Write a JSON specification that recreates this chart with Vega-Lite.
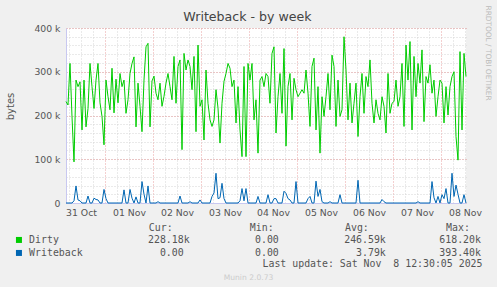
{
"$schema": "https://vega.github.io/schema/vega-lite/v6.json",
"width": 400, "height": 175,
"autosize": "none",
"padding": {"left": 66, "top": 28, "right": 31, "bottom": 84},
"background": "#F0F0F0",
"config": {
  "view": {"fill": "#FFFFFF", "stroke": null},
  "font": "DejaVu Sans",
  "axis": {"gridDash": [1, 2], "gridWidth": 1, "ticks": false, "labelColor": "#555555", "titleColor": "#555555", "titleFontWeight": "normal"}
},
"title": {"text": "Writeback - by week", "fontSize": 12.6, "fontWeight": "normal", "color": "#444444", "anchor": "middle", "dx": -18.5, "dy": 23, "offset": 4, "font": "DejaVu Sans"},
"data": {"values": [
{"t":"2025-10-31T04:30","d":232,"w":0},{"t":"2025-10-31T05:30","d":224,"w":0},{"t":"2025-10-31T06:30","d":319,"w":0},{"t":"2025-10-31T07:30","d":197,"w":0},{"t":"2025-10-31T08:30","d":94,"w":5},{"t":"2025-10-31T09:30","d":281,"w":39},{"t":"2025-10-31T10:30","d":266,"w":7},{"t":"2025-10-31T11:30","d":277,"w":5},{"t":"2025-10-31T12:30","d":167,"w":0},{"t":"2025-10-31T13:30","d":281,"w":0},{"t":"2025-10-31T14:30","d":174,"w":0},{"t":"2025-10-31T15:30","d":216,"w":16},{"t":"2025-10-31T16:30","d":319,"w":0},{"t":"2025-10-31T17:30","d":266,"w":0},{"t":"2025-10-31T18:30","d":216,"w":11},{"t":"2025-10-31T19:30","d":281,"w":8},{"t":"2025-10-31T20:30","d":319,"w":7},{"t":"2025-10-31T21:30","d":229,"w":0},{"t":"2025-10-31T22:30","d":198,"w":0},{"t":"2025-10-31T23:30","d":133,"w":31},
{"t":"2025-11-01T00:30","d":281,"w":10},{"t":"2025-11-01T01:30","d":243,"w":0},{"t":"2025-11-01T02:30","d":213,"w":0},{"t":"2025-11-01T03:30","d":308,"w":0},{"t":"2025-11-01T04:30","d":206,"w":0},{"t":"2025-11-01T05:30","d":283,"w":0},{"t":"2025-11-01T06:30","d":229,"w":0},{"t":"2025-11-01T07:30","d":296,"w":0},{"t":"2025-11-01T08:30","d":266,"w":0},{"t":"2025-11-01T09:30","d":281,"w":30},{"t":"2025-11-01T10:30","d":205,"w":0},{"t":"2025-11-01T11:30","d":236,"w":0},{"t":"2025-11-01T12:30","d":296,"w":31},{"t":"2025-11-01T13:30","d":319,"w":11},{"t":"2025-11-01T14:30","d":334,"w":0},{"t":"2025-11-01T15:30","d":174,"w":14},{"t":"2025-11-01T16:30","d":274,"w":0},{"t":"2025-11-01T17:30","d":221,"w":0},{"t":"2025-11-01T18:30","d":163,"w":49},{"t":"2025-11-01T19:30","d":281,"w":20},{"t":"2025-11-01T20:30","d":357,"w":0},{"t":"2025-11-01T21:30","d":365,"w":39},{"t":"2025-11-01T22:30","d":174,"w":0},{"t":"2025-11-01T23:30","d":279,"w":0},
{"t":"2025-11-02T00:30","d":290,"w":0},{"t":"2025-11-02T01:30","d":251,"w":0},{"t":"2025-11-02T02:30","d":236,"w":3},{"t":"2025-11-02T03:30","d":274,"w":0},{"t":"2025-11-02T04:30","d":221,"w":0},{"t":"2025-11-02T05:30","d":244,"w":0},{"t":"2025-11-02T06:30","d":274,"w":0},{"t":"2025-11-02T07:30","d":296,"w":0},{"t":"2025-11-02T08:30","d":266,"w":0},{"t":"2025-11-02T09:30","d":236,"w":0},{"t":"2025-11-02T10:30","d":335,"w":0},{"t":"2025-11-02T11:30","d":228,"w":0},{"t":"2025-11-02T12:30","d":312,"w":0},{"t":"2025-11-02T13:30","d":327,"w":16},{"t":"2025-11-02T14:30","d":122,"w":0},{"t":"2025-11-02T15:30","d":342,"w":0},{"t":"2025-11-02T16:30","d":304,"w":0},{"t":"2025-11-02T17:30","d":327,"w":0},{"t":"2025-11-02T18:30","d":312,"w":3},{"t":"2025-11-02T19:30","d":259,"w":0},{"t":"2025-11-02T20:30","d":335,"w":0},{"t":"2025-11-02T21:30","d":163,"w":0},{"t":"2025-11-02T22:30","d":361,"w":0},{"t":"2025-11-02T23:30","d":221,"w":7},
{"t":"2025-11-03T00:30","d":236,"w":0},{"t":"2025-11-03T01:30","d":144,"w":0},{"t":"2025-11-03T02:30","d":304,"w":0},{"t":"2025-11-03T03:30","d":228,"w":0},{"t":"2025-11-03T04:30","d":190,"w":0},{"t":"2025-11-03T05:30","d":175,"w":15},{"t":"2025-11-03T06:30","d":190,"w":23},{"t":"2025-11-03T07:30","d":259,"w":68},{"t":"2025-11-03T08:30","d":217,"w":10},{"t":"2025-11-03T09:30","d":137,"w":12},{"t":"2025-11-03T10:30","d":228,"w":45},{"t":"2025-11-03T11:30","d":278,"w":10},{"t":"2025-11-03T12:30","d":296,"w":0},{"t":"2025-11-03T13:30","d":319,"w":0},{"t":"2025-11-03T14:30","d":308,"w":0},{"t":"2025-11-03T15:30","d":266,"w":0},{"t":"2025-11-03T16:30","d":281,"w":0},{"t":"2025-11-03T17:30","d":183,"w":0},{"t":"2025-11-03T18:30","d":266,"w":0},{"t":"2025-11-03T19:30","d":167,"w":5},{"t":"2025-11-03T20:30","d":106,"w":33},{"t":"2025-11-03T21:30","d":312,"w":5},{"t":"2025-11-03T22:30","d":106,"w":33},{"t":"2025-11-03T23:30","d":319,"w":0},
{"t":"2025-11-04T00:30","d":281,"w":0},{"t":"2025-11-04T01:30","d":319,"w":0},{"t":"2025-11-04T02:30","d":190,"w":0},{"t":"2025-11-04T03:30","d":236,"w":0},{"t":"2025-11-04T04:30","d":114,"w":15},{"t":"2025-11-04T05:30","d":281,"w":0},{"t":"2025-11-04T06:30","d":289,"w":0},{"t":"2025-11-04T07:30","d":266,"w":0},{"t":"2025-11-04T08:30","d":296,"w":0},{"t":"2025-11-04T09:30","d":289,"w":19},{"t":"2025-11-04T10:30","d":228,"w":0},{"t":"2025-11-04T11:30","d":342,"w":0},{"t":"2025-11-04T12:30","d":357,"w":10},{"t":"2025-11-04T13:30","d":160,"w":10},{"t":"2025-11-04T14:30","d":243,"w":0},{"t":"2025-11-04T15:30","d":296,"w":0},{"t":"2025-11-04T16:30","d":205,"w":0},{"t":"2025-11-04T17:30","d":353,"w":27},{"t":"2025-11-04T18:30","d":130,"w":22},{"t":"2025-11-04T19:30","d":266,"w":10},{"t":"2025-11-04T20:30","d":296,"w":7},{"t":"2025-11-04T21:30","d":190,"w":0},{"t":"2025-11-04T22:30","d":285,"w":0},{"t":"2025-11-04T23:30","d":259,"w":49},
{"t":"2025-11-05T00:30","d":243,"w":0},{"t":"2025-11-05T01:30","d":251,"w":0},{"t":"2025-11-05T02:30","d":259,"w":0},{"t":"2025-11-05T03:30","d":251,"w":0},{"t":"2025-11-05T04:30","d":304,"w":0},{"t":"2025-11-05T05:30","d":251,"w":10},{"t":"2025-11-05T06:30","d":175,"w":15},{"t":"2025-11-05T07:30","d":312,"w":0},{"t":"2025-11-05T08:30","d":331,"w":0},{"t":"2025-11-05T09:30","d":167,"w":50},{"t":"2025-11-05T10:30","d":266,"w":15},{"t":"2025-11-05T11:30","d":114,"w":31},{"t":"2025-11-05T12:30","d":243,"w":3},{"t":"2025-11-05T13:30","d":198,"w":0},{"t":"2025-11-05T14:30","d":243,"w":0},{"t":"2025-11-05T15:30","d":296,"w":0},{"t":"2025-11-05T16:30","d":213,"w":3},{"t":"2025-11-05T17:30","d":338,"w":0},{"t":"2025-11-05T18:30","d":312,"w":0},{"t":"2025-11-05T19:30","d":175,"w":0},{"t":"2025-11-05T20:30","d":281,"w":0},{"t":"2025-11-05T21:30","d":198,"w":19},{"t":"2025-11-05T22:30","d":213,"w":0},{"t":"2025-11-05T23:30","d":380,"w":0},
{"t":"2025-11-06T00:30","d":304,"w":0},{"t":"2025-11-06T01:30","d":190,"w":0},{"t":"2025-11-06T02:30","d":274,"w":0},{"t":"2025-11-06T03:30","d":183,"w":0},{"t":"2025-11-06T04:30","d":228,"w":0},{"t":"2025-11-06T05:30","d":274,"w":0},{"t":"2025-11-06T06:30","d":152,"w":52},{"t":"2025-11-06T07:30","d":243,"w":0},{"t":"2025-11-06T08:30","d":296,"w":0},{"t":"2025-11-06T09:30","d":205,"w":0},{"t":"2025-11-06T10:30","d":289,"w":0},{"t":"2025-11-06T11:30","d":266,"w":0},{"t":"2025-11-06T12:30","d":327,"w":0},{"t":"2025-11-06T13:30","d":228,"w":0},{"t":"2025-11-06T14:30","d":183,"w":0},{"t":"2025-11-06T15:30","d":236,"w":0},{"t":"2025-11-06T16:30","d":205,"w":0},{"t":"2025-11-06T17:30","d":190,"w":0},{"t":"2025-11-06T18:30","d":243,"w":8},{"t":"2025-11-06T19:30","d":221,"w":3},{"t":"2025-11-06T20:30","d":160,"w":0},{"t":"2025-11-06T21:30","d":296,"w":0},{"t":"2025-11-06T22:30","d":205,"w":0},{"t":"2025-11-06T23:30","d":228,"w":0},
{"t":"2025-11-07T00:30","d":232,"w":0},{"t":"2025-11-07T01:30","d":281,"w":0},{"t":"2025-11-07T02:30","d":221,"w":0},{"t":"2025-11-07T03:30","d":243,"w":0},{"t":"2025-11-07T04:30","d":319,"w":0},{"t":"2025-11-07T05:30","d":175,"w":0},{"t":"2025-11-07T06:30","d":361,"w":0},{"t":"2025-11-07T07:30","d":281,"w":0},{"t":"2025-11-07T08:30","d":369,"w":0},{"t":"2025-11-07T09:30","d":167,"w":0},{"t":"2025-11-07T10:30","d":335,"w":0},{"t":"2025-11-07T11:30","d":243,"w":0},{"t":"2025-11-07T12:30","d":319,"w":3},{"t":"2025-11-07T13:30","d":274,"w":0},{"t":"2025-11-07T14:30","d":350,"w":0},{"t":"2025-11-07T15:30","d":186,"w":0},{"t":"2025-11-07T16:30","d":289,"w":0},{"t":"2025-11-07T17:30","d":274,"w":0},{"t":"2025-11-07T18:30","d":316,"w":0},{"t":"2025-11-07T19:30","d":251,"w":49},{"t":"2025-11-07T20:30","d":281,"w":12},{"t":"2025-11-07T21:30","d":198,"w":0},{"t":"2025-11-07T22:30","d":243,"w":15},{"t":"2025-11-07T23:30","d":281,"w":0},
{"t":"2025-11-08T00:30","d":274,"w":19},{"t":"2025-11-08T01:30","d":183,"w":10},{"t":"2025-11-08T02:30","d":266,"w":33},{"t":"2025-11-08T03:30","d":201,"w":0},{"t":"2025-11-08T04:30","d":266,"w":0},{"t":"2025-11-08T05:30","d":289,"w":68},{"t":"2025-11-08T06:30","d":300,"w":15},{"t":"2025-11-08T07:30","d":152,"w":41},{"t":"2025-11-08T08:30","d":98,"w":20},{"t":"2025-11-08T09:30","d":346,"w":0},{"t":"2025-11-08T10:30","d":167,"w":0},{"t":"2025-11-08T11:30","d":342,"w":19},{"t":"2025-11-08T12:30","d":289,"w":0}
]},
"layer": [
  {
    "mark": {"type": "line", "strokeWidth": 1},
    "encoding": {
      "x": {"field": "t", "type": "temporal",
        "scale": {"domain": [{"year": 2025, "month": 10, "date": 31, "hours": 4, "minutes": 30}, {"year": 2025, "month": 11, "date": 8, "hours": 12, "minutes": 30}]},
        "axis": {"orient": "bottom", "grid": true, "gridColor": "#D4D4D4",
          "values": [{"year":2025,"month":10,"date":31,"hours":6},{"year":2025,"month":10,"date":31,"hours":12},{"year":2025,"month":10,"date":31,"hours":18},
            {"year":2025,"month":11,"date":1,"hours":6},{"year":2025,"month":11,"date":1,"hours":12},{"year":2025,"month":11,"date":1,"hours":18},
            {"year":2025,"month":11,"date":2,"hours":6},{"year":2025,"month":11,"date":2,"hours":12},{"year":2025,"month":11,"date":2,"hours":18},
            {"year":2025,"month":11,"date":3,"hours":6},{"year":2025,"month":11,"date":3,"hours":12},{"year":2025,"month":11,"date":3,"hours":18},
            {"year":2025,"month":11,"date":4,"hours":6},{"year":2025,"month":11,"date":4,"hours":12},{"year":2025,"month":11,"date":4,"hours":18},
            {"year":2025,"month":11,"date":5,"hours":6},{"year":2025,"month":11,"date":5,"hours":12},{"year":2025,"month":11,"date":5,"hours":18},
            {"year":2025,"month":11,"date":6,"hours":6},{"year":2025,"month":11,"date":6,"hours":12},{"year":2025,"month":11,"date":6,"hours":18},
            {"year":2025,"month":11,"date":7,"hours":6},{"year":2025,"month":11,"date":7,"hours":12},{"year":2025,"month":11,"date":7,"hours":18},
            {"year":2025,"month":11,"date":8,"hours":6},{"year":2025,"month":11,"date":8,"hours":12}],
          "labels": false, "domain": false, "ticks": false,
          "title": "Cur:\u00a0\u00a0\u00a0\u00a0\u00a0\u00a0\u00a0\u00a0\u00a0\u00a0\u00a0\u00a0\u00a0Min:\u00a0\u00a0\u00a0\u00a0\u00a0\u00a0\u00a0\u00a0\u00a0\u00a0\u00a0\u00a0Avg:\u00a0\u00a0\u00a0\u00a0\u00a0\u00a0\u00a0\u00a0\u00a0\u00a0\u00a0\u00a0\u00a0Max:",
          "titleX": 82.3, "titleY": 24.7, "titleAlign": "left", "titleBaseline": "middle", "titleFont": "DejaVu Sans Mono", "titleFontSize": 9.9, "titleColor": "#555555"}},
      "y": {"field": "d", "type": "quantitative", "scale": {"domain": [0, 400], "nice": false},
        "axis": {"orient": "left", "grid": true, "gridColor": "#D4D4D4", "values": [0,20,40,60,80,100,120,140,160,180,200,220,240,260,280,300,320,340,360,380,400], "labels": false, "domain": false, "ticks": false,
          "title": "bytes", "titleX": -56, "titleY": 78, "titleAngle": 270, "titleAlign": "center", "titleBaseline": "middle", "titleFontSize": 10, "titleColor": "#555555"}},
      "color": {"datum": "Dirty\u00a0\u00a0\u00a0\u00a0\u00a0\u00a0\u00a0\u00a0\u00a0\u00a0\u00a0\u00a0\u00a0\u00a0\u00a0228.18k\u00a0\u00a0\u00a0\u00a0\u00a0\u00a0\u00a0\u00a0\u00a0\u00a0\u00a00.00\u00a0\u00a0\u00a0\u00a0\u00a0\u00a0\u00a0\u00a0\u00a0\u00a0\u00a0246.59k\u00a0\u00a0\u00a0\u00a0\u00a0\u00a0\u00a0\u00a0\u00a0618.20k", "type": "nominal",
        "scale": {"range": ["#00CC00", "#0066B3"]},
        "legend": {"orient": "none", "legendX": -52, "legendY": 207, "title": null, "padding": 0, "symbolType": "square", "symbolSize": 9, "symbolStrokeWidth": 3,
          "labelFont": "DejaVu Sans Mono", "labelFontSize": 9.9, "labelColor": "#555555", "labelOffset": 5.2, "labelLimit": 1000, "rowPadding": -4.9}}
    }
  },
  {
    "mark": {"type": "line", "strokeWidth": 1},
    "encoding": {
      "x": {"field": "t", "type": "temporal",
        "axis": {"orient": "bottom", "grid": true, "gridColor": "#E8A0A0",
          "values": [{"year": 2025, "month": 11, "date": 1}, {"year": 2025, "month": 11, "date": 2}, {"year": 2025, "month": 11, "date": 3}, {"year": 2025, "month": 11, "date": 4}, {"year": 2025, "month": 11, "date": 5}, {"year": 2025, "month": 11, "date": 6}, {"year": 2025, "month": 11, "date": 7}, {"year": 2025, "month": 11, "date": 8}],
          "labels": false, "ticks": false, "domain": true, "domainColor": "#C8C8F0",
          "title": "Munin 2.0.73", "titleX": 182, "titleY": 74, "titleAlign": "center", "titleBaseline": "middle", "titleFontSize": 7.6, "titleColor": "#CCCCCC"}},
      "y": {"field": "w", "type": "quantitative",
        "axis": {"orient": "left", "grid": true, "gridColor": "#E8A0A0", "values": [0, 100, 200, 300, 400],
          "labelExpr": "datum.value == 0 ? '0' : datum.value + ' k'", "labelFontSize": 9.3, "labelPadding": 6, "ticks": false,
          "domain": true, "domainColor": "#C8C8F0", "title": null}},
      "color": {"datum": "Writeback\u00a0\u00a0\u00a0\u00a0\u00a0\u00a0\u00a0\u00a0\u00a0\u00a0\u00a0\u00a0\u00a00.00\u00a0\u00a0\u00a0\u00a0\u00a0\u00a0\u00a0\u00a0\u00a0\u00a0\u00a0\u00a00.00\u00a0\u00a0\u00a0\u00a0\u00a0\u00a0\u00a0\u00a0\u00a0\u00a0\u00a0\u00a0\u00a03.79k\u00a0\u00a0\u00a0\u00a0\u00a0\u00a0\u00a0\u00a0\u00a0393.40k", "type": "nominal"}
    }
  },
  {
    "mark": {"type": "line", "strokeOpacity": 0},
    "encoding": {
      "x": {"field": "t", "type": "temporal",
        "axis": {"orient": "bottom", "grid": false,
          "values": [{"year": 2025, "month": 10, "date": 31, "hours": 12}, {"year": 2025, "month": 11, "date": 1, "hours": 12}, {"year": 2025, "month": 11, "date": 2, "hours": 12}, {"year": 2025, "month": 11, "date": 3, "hours": 12}, {"year": 2025, "month": 11, "date": 4, "hours": 12}, {"year": 2025, "month": 11, "date": 5, "hours": 12}, {"year": 2025, "month": 11, "date": 6, "hours": 12}, {"year": 2025, "month": 11, "date": 7, "hours": 12}, {"year": 2025, "month": 11, "date": 8, "hours": 12}],
          "format": "%d %b", "labelFontSize": 9.3, "labelPadding": 5, "labelBaseline": "top", "ticks": false, "domain": false, "labelFlush": false, "labelOverlap": false,
          "title": "Last update: Sat Nov\u00a0\u00a08 12:30:05 2025", "titleX": 416, "titleY": 60, "titleAlign": "right", "titleBaseline": "middle", "titleFont": "DejaVu Sans Mono", "titleFontSize": 9.9, "titleColor": "#555555"}},
      "y": {"field": "d", "type": "quantitative",
        "axis": {"orient": "right", "grid": false, "labels": false, "ticks": false, "domain": false,
          "title": "RRDTOOL / TOBI OETIKER", "titleAngle": 90, "titleX": 21.5, "titleY": -23, "titleAlign": "left", "titleBaseline": "middle", "titleFontSize": 7.4, "titleColor": "#BBBBBB"}}
    }
  }
],
"resolve": {"axis": {"x": "independent", "y": "independent"}}
}
